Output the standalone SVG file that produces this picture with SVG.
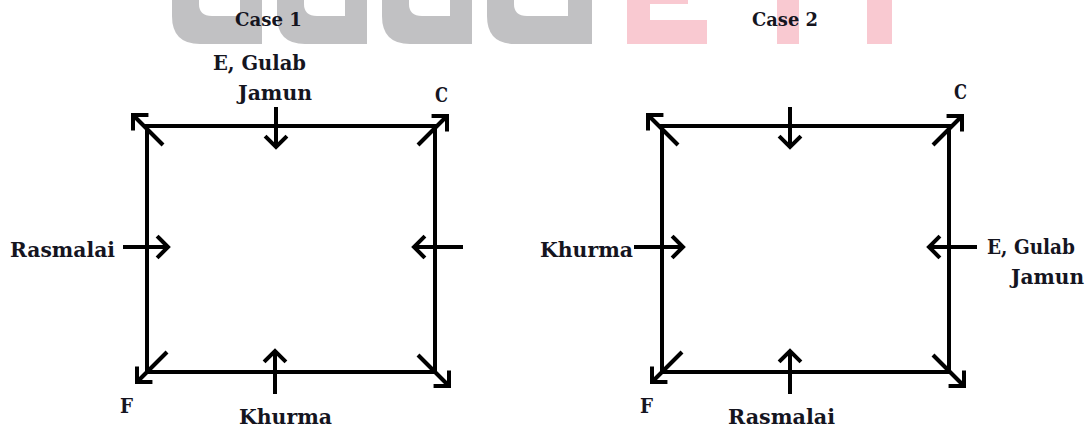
<svg xmlns="http://www.w3.org/2000/svg" width="1089" height="429" viewBox="0 0 1089 429">
<defs>
<style>
.t{font-family:"DejaVu Serif","Liberation Serif",serif;font-weight:bold;fill:#15151f;}
.l{stroke:#000;stroke-width:4;fill:none;}
.a{stroke:#000;stroke-width:4;fill:none;marker-end:url(#ah);}
.wg{fill:#c1c1c3;}
.wp{fill:#f9c9d1;}
</style>
<marker id="ah" markerUnits="userSpaceOnUse" viewBox="-14 -14 18 28" refX="0" refY="0" markerWidth="18" markerHeight="28" orient="auto" overflow="visible">
<path d="M-9.5,-9.5 L0,0 L-9.5,9.5" fill="none" stroke="#000" stroke-width="4" stroke-linecap="square"/>
</marker>
</defs>
<rect width="1089" height="429" fill="#fff"/>
<g id="watermark">
<path class="wg" d="M172,0 H262 V44 H200 Q172,44 172,16 Z"/>
<path fill="#fff" d="M199,0 H240 V16 H212 Q199,16 199,4 Z"/>
<path class="wg" d="M277,0 H367 V44 H305 Q277,44 277,16 Z"/>
<path fill="#fff" d="M304,0 H345 V16 H317 Q304,16 304,4 Z"/>
<path class="wg" d="M382,0 H472 V44 H410 Q382,44 382,16 Z"/>
<path fill="#fff" d="M409,0 H450 V16 H422 Q409,16 409,4 Z"/>
<path class="wg" d="M487,0 H592 V44 H515 Q487,44 487,16 Z"/>
<path fill="#fff" d="M514,0 H568 V16 H527 Q514,16 514,4 Z"/>
<path class="wp" d="M627,0 H650 V20 H707 V44 H627 Z"/>
<rect class="wp" x="650" y="0" width="38" height="4"/>
<rect class="wp" x="777" y="0" width="22" height="44"/>
<rect class="wp" x="867" y="0" width="25" height="44"/>
</g>
<g id="case1">
<text class="t" x="235" y="26" font-size="19" textLength="67" lengthAdjust="spacingAndGlyphs">Case 1</text>
<g id="c1-box"><rect class="l" x="147" y="126" width="288" height="246"/></g>
<g id="c1-top-label">
<text class="t" x="213" y="70" font-size="21" textLength="93" lengthAdjust="spacingAndGlyphs">E, Gulab</text>
<text class="t" x="238" y="100" font-size="21" textLength="74" lengthAdjust="spacingAndGlyphs">Jamun</text>
</g>
<g id="c1-C"><text class="t" x="435" y="102" font-size="20" textLength="13" lengthAdjust="spacingAndGlyphs">C</text></g>
<g id="c1-left-label"><text class="t" x="10" y="257" font-size="21" textLength="105" lengthAdjust="spacingAndGlyphs">Rasmalai</text></g>
<g id="c1-F"><text class="t" x="120" y="413" font-size="20" textLength="13" lengthAdjust="spacingAndGlyphs">F</text></g>
<g id="c1-bottom-label"><text class="t" x="239" y="424" font-size="21" textLength="93" lengthAdjust="spacingAndGlyphs">Khurma</text></g>
</g>
<g id="case2">
<text class="t" x="752" y="26" font-size="19" textLength="66" lengthAdjust="spacingAndGlyphs">Case 2</text>
<g id="c2-box"><rect class="l" x="662" y="126" width="287" height="246"/></g>
<g id="c2-C"><text class="t" x="954" y="99" font-size="20" textLength="13" lengthAdjust="spacingAndGlyphs">C</text></g>
<g id="c2-left-label"><text class="t" x="540" y="257" font-size="21" textLength="93" lengthAdjust="spacingAndGlyphs">Khurma</text></g>
<g id="c2-right-label">
<text class="t" x="987" y="254" font-size="21" textLength="88" lengthAdjust="spacingAndGlyphs">E, Gulab</text>
<text class="t" x="1011" y="284" font-size="21" textLength="73" lengthAdjust="spacingAndGlyphs">Jamun</text>
</g>
<g id="c2-F"><text class="t" x="640" y="413" font-size="20" textLength="13" lengthAdjust="spacingAndGlyphs">F</text></g>
<g id="c2-bottom-label"><text class="t" x="728" y="424" font-size="21" textLength="107" lengthAdjust="spacingAndGlyphs">Rasmalai</text></g>
</g>
<g id="connectors">
<line class="a" x1="163" y1="145" x2="133" y2="115"/>
<line class="a" x1="418" y1="145" x2="447" y2="116"/>
<line class="a" x1="167" y1="352" x2="137" y2="382"/>
<line class="a" x1="418" y1="355" x2="449" y2="386"/>
<line class="a" x1="276" y1="107" x2="276" y2="147"/>
<line class="a" x1="275" y1="394" x2="275" y2="351"/>
<line class="a" x1="123" y1="247" x2="168" y2="247"/>
<line class="a" x1="463" y1="247" x2="414" y2="247"/>
<line class="a" x1="678" y1="145" x2="648" y2="115"/>
<line class="a" x1="933" y1="145" x2="962" y2="116"/>
<line class="a" x1="682" y1="352" x2="652" y2="382"/>
<line class="a" x1="933" y1="355" x2="964" y2="386"/>
<line class="a" x1="790" y1="107" x2="790" y2="147"/>
<line class="a" x1="790" y1="394" x2="790" y2="351"/>
<line class="a" x1="634" y1="247" x2="683" y2="247"/>
<line class="a" x1="977" y1="247" x2="929" y2="247"/>
</g>
</svg>
